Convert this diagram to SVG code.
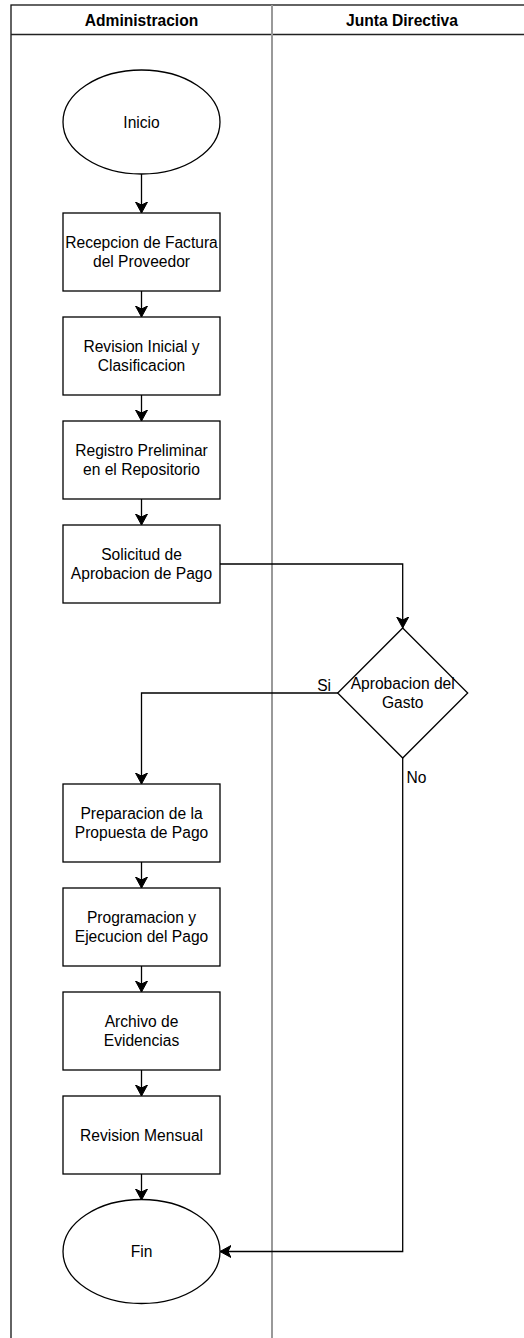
<svg xmlns="http://www.w3.org/2000/svg" width="524" height="1338" viewBox="0 0 524 1338">
<defs>
<style>
.n{fill:#fff;stroke:#000;stroke-width:1.3}
.t{font-family:"Liberation Sans",Arial,sans-serif;font-size:15.6px;fill:#000;text-anchor:middle}
.h{font-family:"Liberation Sans",Arial,sans-serif;font-size:15.6px;font-weight:bold;fill:#000;text-anchor:middle}
.l{font-family:"Liberation Sans",Arial,sans-serif;font-size:15.6px;fill:#000}
.c{fill:none;stroke:#000;stroke-width:1.3}
</style>
<marker id="a" markerUnits="userSpaceOnUse" markerWidth="14" markerHeight="14" refX="11" refY="6" orient="auto">
<path d="M0,0 L11,6 L0,12 L3,6 Z" fill="#000" stroke="#000" stroke-width="1"/>
</marker>
</defs>
<rect width="524" height="1338" fill="#fff"/>
<g id="lanes">
<rect x="11" y="5" width="530" height="1340" fill="none" stroke="#111" stroke-width="1.3"/>
<line x1="11" y1="34.5" x2="524" y2="34.5" stroke="#222" stroke-width="1.3"/>
<line x1="272" y1="5" x2="272" y2="1338" stroke="#999" stroke-width="2"/>
<text class="h" x="141.5" y="26">Administracion</text>
<text class="h" x="402" y="26">Junta Directiva</text>
</g>
<g id="connectors">
<path class="c" d="M141.5,174 V213" marker-end="url(#a)"/>
<path class="c" d="M141.5,291 V317" marker-end="url(#a)"/>
<path class="c" d="M141.5,395 V421" marker-end="url(#a)"/>
<path class="c" d="M141.5,499 V525" marker-end="url(#a)"/>
<path class="c" d="M220,564 H402.7 V628" marker-end="url(#a)"/>
<path class="c" d="M338,693 H141.5 V784" marker-end="url(#a)"/>
<path class="c" d="M141.5,862 V888" marker-end="url(#a)"/>
<path class="c" d="M141.5,966 V992" marker-end="url(#a)"/>
<path class="c" d="M141.5,1070 V1096" marker-end="url(#a)"/>
<path class="c" d="M141.5,1174 V1200" marker-end="url(#a)"/>
<path class="c" d="M402.7,758 V1251.5 H220" marker-end="url(#a)"/>
<text class="l" x="331" y="691" text-anchor="end">Si</text>
<text class="l" x="406.5" y="783">No</text>
</g>
<g id="inicio">
<ellipse class="n" cx="141.5" cy="122" rx="78.5" ry="52"/>
<text class="t" x="141.5" y="127.6">Inicio</text>
</g>
<g id="recepcion">
<rect class="n" x="63" y="213" width="157" height="78"/>
<text class="t" x="141.5" y="248.3">Recepcion de Factura</text>
<text class="t" x="141.5" y="267">del Proveedor</text>
</g>
<g id="revision">
<rect class="n" x="63" y="317" width="157" height="78"/>
<text class="t" x="141.5" y="352.3">Revision Inicial y</text>
<text class="t" x="141.5" y="371">Clasificacion</text>
</g>
<g id="registro">
<rect class="n" x="63" y="421" width="157" height="78"/>
<text class="t" x="141.5" y="456.3">Registro Preliminar</text>
<text class="t" x="141.5" y="475">en el Repositorio</text>
</g>
<g id="solicitud">
<rect class="n" x="63" y="525" width="157" height="78"/>
<text class="t" x="141.5" y="560.3">Solicitud de</text>
<text class="t" x="141.5" y="579">Aprobacion de Pago</text>
</g>
<g id="aprobacion">
<polygon class="n" points="402.7,628 467.7,693 402.7,758 337.7,693"/>
<text class="t" x="402.7" y="689.3">Aprobacion del</text>
<text class="t" x="402.7" y="708">Gasto</text>
</g>
<g id="preparacion">
<rect class="n" x="63" y="784" width="157" height="78"/>
<text class="t" x="141.5" y="819.3">Preparacion de la</text>
<text class="t" x="141.5" y="838">Propuesta de Pago</text>
</g>
<g id="programacion">
<rect class="n" x="63" y="888" width="157" height="78"/>
<text class="t" x="141.5" y="923.3">Programacion y</text>
<text class="t" x="141.5" y="942">Ejecucion del Pago</text>
</g>
<g id="archivo">
<rect class="n" x="63" y="992" width="157" height="78"/>
<text class="t" x="141.5" y="1027.3">Archivo de</text>
<text class="t" x="141.5" y="1046">Evidencias</text>
</g>
<g id="revision-mensual">
<rect class="n" x="63" y="1096" width="157" height="78"/>
<text class="t" x="141.5" y="1140.6">Revision Mensual</text>
</g>
<g id="fin">
<ellipse class="n" cx="141.5" cy="1251.5" rx="78.5" ry="52"/>
<text class="t" x="141.5" y="1257.1">Fin</text>
</g>
</svg>
